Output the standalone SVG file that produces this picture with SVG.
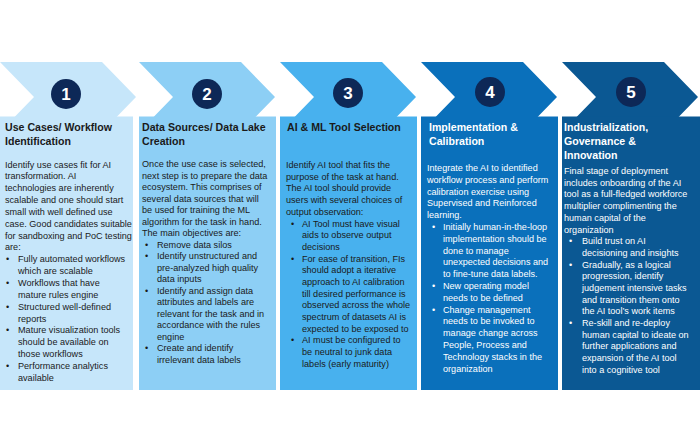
<svg xmlns="http://www.w3.org/2000/svg" width="700" height="440" viewBox="0 0 700 440">
<style>
.t{font-family:"Liberation Sans",Arial,sans-serif;font-weight:bold;font-size:10.6px}
.b{font-family:"Liberation Sans",Arial,sans-serif;font-size:9.1px}
.n{font-family:"Liberation Sans",Arial,sans-serif;font-weight:bold;font-size:17px;fill:#fff;text-anchor:middle}
.dk{fill:#1a1a1a}
.lt{fill:#ffffff}
.c{fill:#0d2857}
.s1{fill:#c6e6fa}.s2{fill:#8dcff5}.s3{fill:#48b1ee}.s4{fill:#0a70bb}.s5{fill:#0b5893}
</style>
<rect width="700" height="440" fill="#ffffff"/>
<g id="connectors"/>
<g id="step1">
<polygon class="s1" points="0,62 102,62 136,97 102,132 0,132 34,97"/>
<rect class="s1" x="0" y="116.5" width="133" height="273.5"/>
<circle class="c" cx="66" cy="94" r="15"/>
<text class="n" x="66" y="100">1</text>
<text class="t dk" y="131"><tspan x="5">Use Cases/ Workflow</tspan><tspan x="5" dy="14">Identification</tspan></text>
<text class="b dk" y="167.5"><tspan x="5">Identify use cases fit for AI</tspan><tspan x="5" dy="11.85">transformation. AI</tspan><tspan x="5" dy="11.85">technologies are inherently</tspan><tspan x="5" dy="11.85">scalable and one should start</tspan><tspan x="5" dy="11.85">small with well defined use</tspan><tspan x="5" dy="11.85">case. Good candidates suitable</tspan><tspan x="5" dy="11.85">for sandboxing and PoC testing</tspan><tspan x="5" dy="11.85">are:</tspan><tspan x="6" dy="11.85">•</tspan><tspan x="18">Fully automated workflows</tspan><tspan x="18" dy="11.85">which are scalable</tspan><tspan x="6" dy="11.85">•</tspan><tspan x="18">Workflows that have</tspan><tspan x="18" dy="11.85">mature rules engine</tspan><tspan x="6" dy="11.85">•</tspan><tspan x="18">Structured well-defined</tspan><tspan x="18" dy="11.85">reports</tspan><tspan x="6" dy="11.85">•</tspan><tspan x="18">Mature visualization tools</tspan><tspan x="18" dy="11.85">should be available on</tspan><tspan x="18" dy="11.85">those workflows</tspan><tspan x="6" dy="11.85">•</tspan><tspan x="18">Performance analytics</tspan><tspan x="18" dy="11.85">available</tspan></text>
</g>
<g id="step2">
<polygon class="s2" points="139,62 241,62 275,97 241,132 139,132 173,97"/>
<rect class="s2" x="139" y="116.5" width="137" height="273.5"/>
<circle class="c" cx="207" cy="94" r="15"/>
<text class="n" x="207" y="100">2</text>
<text class="t dk" y="131"><tspan x="142">Data Sources/ Data Lake</tspan><tspan x="142" dy="14">Creation</tspan></text>
<text class="b dk" y="167"><tspan x="142">Once the use case is selected,</tspan><tspan x="142" dy="11.5">next step is to prepare the data</tspan><tspan x="142" dy="11.5">ecosystem. This comprises of</tspan><tspan x="142" dy="11.5">several data sources that will</tspan><tspan x="142" dy="11.5">be used for training the ML</tspan><tspan x="142" dy="11.5">algorithm for the task in hand.</tspan><tspan x="142" dy="11.5">The main objectives are:</tspan><tspan x="145" dy="11.5">•</tspan><tspan x="157">Remove data silos</tspan><tspan x="145" dy="11.5">•</tspan><tspan x="157">Identify unstructured and</tspan><tspan x="157" dy="11.5">pre-analyzed high quality</tspan><tspan x="157" dy="11.5">data inputs</tspan><tspan x="145" dy="11.5">•</tspan><tspan x="157">Identify and assign data</tspan><tspan x="157" dy="11.5">attributes and labels are</tspan><tspan x="157" dy="11.5">relevant for the task and in</tspan><tspan x="157" dy="11.5">accordance with the rules</tspan><tspan x="157" dy="11.5">engine</tspan><tspan x="145" dy="11.5">•</tspan><tspan x="157">Create and identify</tspan><tspan x="157" dy="11.5">irrelevant data labels</tspan></text>
</g>
<g id="step3">
<polygon class="s3" points="280,62 382,62 416,97 382,132 280,132 314,97"/>
<rect class="s3" x="280" y="116.5" width="137" height="273.5"/>
<circle class="c" cx="348" cy="93" r="15"/>
<text class="n" x="348" y="99">3</text>
<text class="t dk" y="131"><tspan x="287">AI &amp; ML Tool Selection</tspan></text>
<text class="b dk" y="168"><tspan x="286">Identify AI tool that fits the</tspan><tspan x="286" dy="11.7">purpose of the task at hand.</tspan><tspan x="286" dy="11.7">The AI tool should provide</tspan><tspan x="286" dy="11.7">users with several choices of</tspan><tspan x="286" dy="11.7">output observation:</tspan><tspan x="291" dy="11.7">•</tspan><tspan x="302">AI Tool must have visual</tspan><tspan x="302" dy="11.7">aids to observe output</tspan><tspan x="302" dy="11.7">decisions</tspan><tspan x="291" dy="11.7">•</tspan><tspan x="302">For ease of transition, FIs</tspan><tspan x="302" dy="11.7">should adopt a iterative</tspan><tspan x="302" dy="11.7">approach to AI calibration</tspan><tspan x="302" dy="11.7">till desired performance is</tspan><tspan x="302" dy="11.7">observed across the whole</tspan><tspan x="302" dy="11.7">spectrum of datasets AI is</tspan><tspan x="302" dy="11.7">expected to be exposed to</tspan><tspan x="291" dy="11.7">•</tspan><tspan x="302">AI must be configured to</tspan><tspan x="302" dy="11.7">be neutral to junk data</tspan><tspan x="302" dy="11.7">labels (early maturity)</tspan></text>
</g>
<g id="step4">
<polygon class="s4" points="421,62 523,62 557,97 523,132 421,132 455,97"/>
<rect class="s4" x="421" y="116.5" width="137" height="273.5"/>
<circle class="c" cx="490" cy="92" r="15"/>
<text class="n" x="490" y="98">4</text>
<text class="t lt" y="131"><tspan x="429">Implementation &amp;</tspan><tspan x="429" dy="14">Calibration</tspan></text>
<text class="b lt" y="171"><tspan x="427">Integrate the AI to identified</tspan><tspan x="427" dy="11.8">workflow process and perform</tspan><tspan x="427" dy="11.8">calibration exercise using</tspan><tspan x="427" dy="11.8">Supervised and Reinforced</tspan><tspan x="427" dy="11.8">learning.</tspan><tspan x="432" dy="11.8">•</tspan><tspan x="443">Initially human-in-the-loop</tspan><tspan x="443" dy="11.8">implementation should be</tspan><tspan x="443" dy="11.8">done to manage</tspan><tspan x="443" dy="11.8">unexpected decisions and</tspan><tspan x="443" dy="11.8">to fine-tune data labels.</tspan><tspan x="432" dy="11.8">•</tspan><tspan x="443">New operating model</tspan><tspan x="443" dy="11.8">needs to be defined</tspan><tspan x="432" dy="11.8">•</tspan><tspan x="443">Change management</tspan><tspan x="443" dy="11.8">needs to be invoked to</tspan><tspan x="443" dy="11.8">manage change across</tspan><tspan x="443" dy="11.8">People, Process and</tspan><tspan x="443" dy="11.8">Technology stacks in the</tspan><tspan x="443" dy="11.8">organization</tspan></text>
</g>
<g id="step5">
<polygon class="s5" points="562,62 664,62 698,97 664,132 562,132 596,97"/>
<rect class="s5" x="562" y="116.5" width="138" height="273.5"/>
<circle class="c" cx="631" cy="92" r="15"/>
<text class="n" x="631" y="98">5</text>
<text class="t lt" y="131"><tspan x="564">Industrialization,</tspan><tspan x="564" dy="14">Governance &amp;</tspan><tspan x="564" dy="14">Innovation</tspan></text>
<text class="b lt" y="174"><tspan x="564">Final stage of deployment</tspan><tspan x="564" dy="11.7">includes onboarding of the AI</tspan><tspan x="564" dy="11.7">tool as a full-fledged workforce</tspan><tspan x="564" dy="11.7">multiplier complimenting the</tspan><tspan x="564" dy="11.7">human capital of the</tspan><tspan x="564" dy="11.7">organization</tspan><tspan x="569" dy="11.7">•</tspan><tspan x="582">Build trust on AI</tspan><tspan x="582" dy="11.7">decisioning and insights</tspan><tspan x="569" dy="11.7">•</tspan><tspan x="582">Gradually, as a logical</tspan><tspan x="582" dy="11.7">progression, identify</tspan><tspan x="582" dy="11.7">judgement intensive tasks</tspan><tspan x="582" dy="11.7">and transition them onto</tspan><tspan x="582" dy="11.7">the AI tool’s work items</tspan><tspan x="569" dy="11.7">•</tspan><tspan x="582">Re-skill and re-deploy</tspan><tspan x="582" dy="11.7">human capital to ideate on</tspan><tspan x="582" dy="11.7">further applications and</tspan><tspan x="582" dy="11.7">expansion of the AI tool</tspan><tspan x="582" dy="11.7">into a cognitive tool</tspan></text>
</g>
</svg>
